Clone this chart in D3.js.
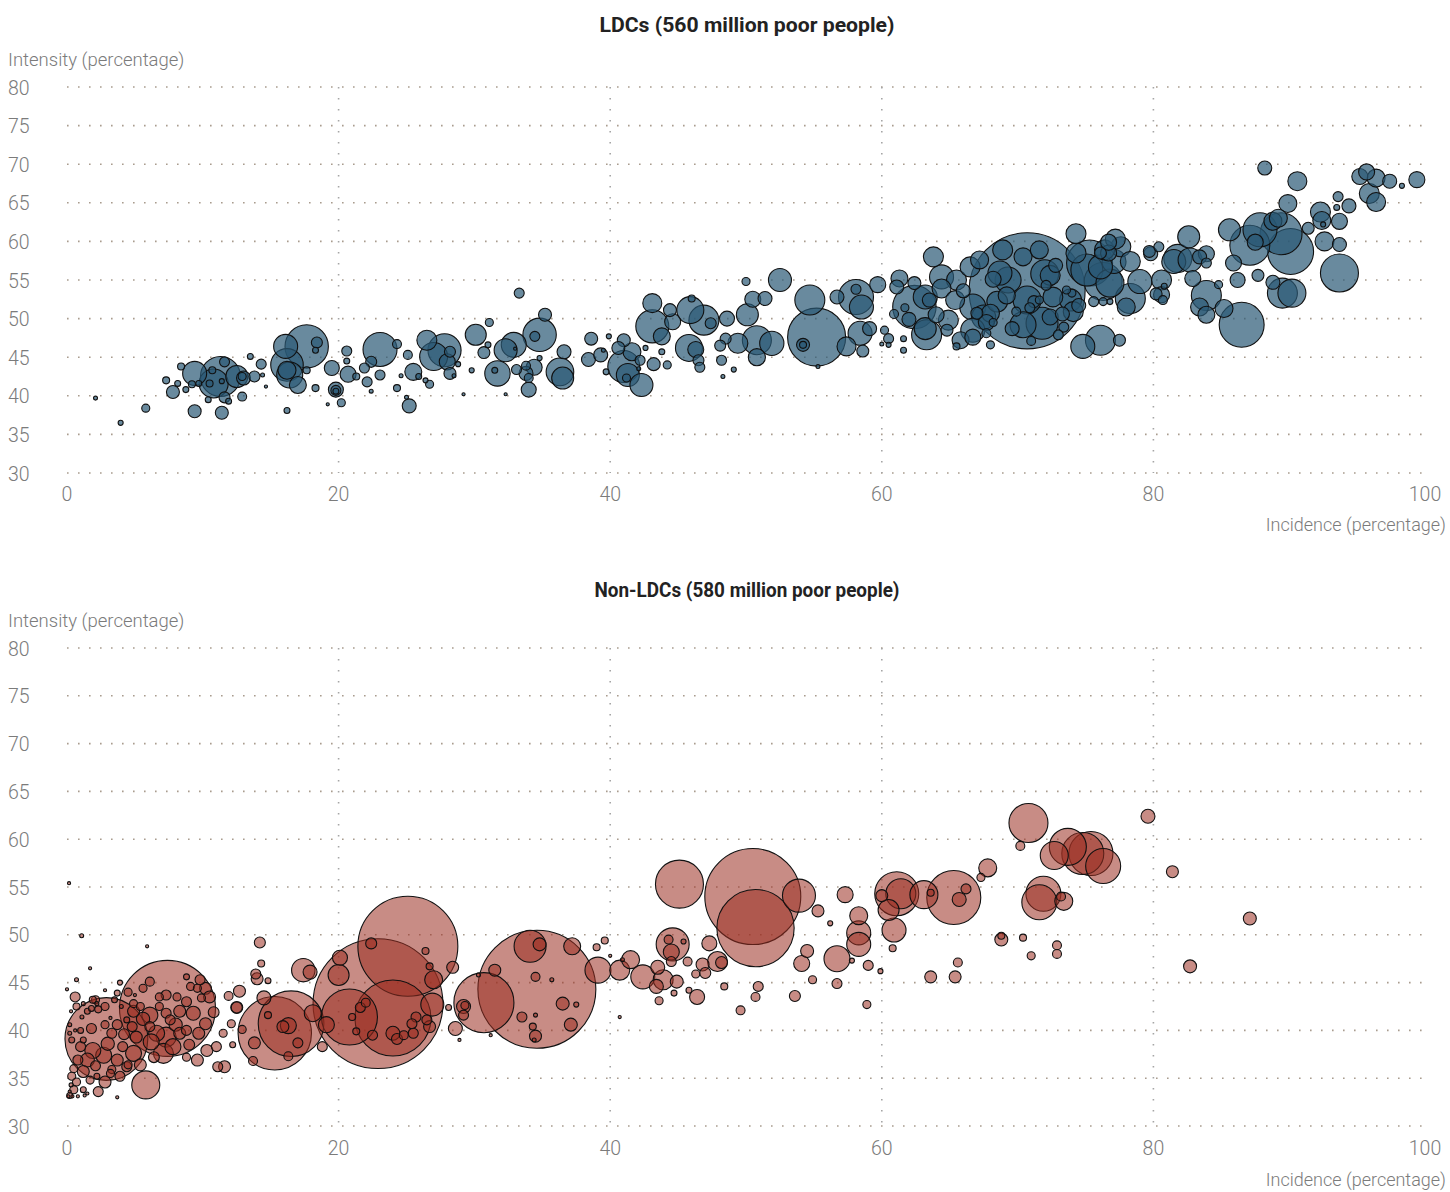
<!DOCTYPE html>
<html>
<head>
<meta charset="utf-8">
<script src="https://cdn.jsdelivr.net/npm/d3@7"></script>
<style>
  body { margin: 0; background: #fff; }
  svg text { font-family: Roboto, "Noto Sans", sans-serif; }
</style>
</head>
<body>
<svg id="chart" width="1450" height="1192"></svg>
<script>
// Axis ticks
const yTicks = [30, 35, 40, 45, 50, 55, 60, 65, 70, 75, 80];
const xTicks = [0, 20, 40, 60, 80, 100];
const xGridValues = [20, 40, 60, 80];
const panelTitles = ["LDCs (560 million poor people)", "Non-LDCs (580 million poor people)"];
const yAxisTitle = "Intensity (percentage)";
const xAxisTitle = "Incidence (percentage)";

// Subnational regions: [incidence %, intensity %, poor people (millions)]
const ldcRegions = [
  [2.1,39.7,0.08],[3.95,36.5,0.13],[5.8,38.4,0.33],[7.3,42.0,0.25],[7.8,40.5,0.86],[8.15,41.6,0.18],
  [8.4,43.8,0.25],[8.75,40.8,0.18],[9.4,42.9,2.94],[9.2,41.5,0.25],[9.7,41.6,0.18],[9.4,38.0,0.86],
  [10.4,39.5,0.18],[11.3,42.5,8.16],[10.8,41.6,4.3],[12.5,42.5,2.47],[12.9,42.5,0.33],[11.6,44.4,0.51],
  [10.7,43.3,0.25],[10.5,41.6,0.25],[11.4,41.9,0.13],[11.6,39.8,0.62],[11.4,37.8,0.86],[11.9,39.3,0.18],
  [12.9,39.9,0.41],[13.0,42.3,1.0],[13.5,45.1,0.18],[13.8,42.5,0.62],[14.3,44.1,0.51],[14.4,42.7,0.08],
  [14.65,41.2,0.05],[16.2,38.1,0.18],[16.1,46.4,2.94],[17.65,46.4,9.6],[16.2,44.0,5.4],[16.2,43.3,1.65],
  [16.4,42.7,3.45],[17.0,41.4,1.47],[18.4,46.9,0.62],[18.3,45.9,0.18],[18.3,41.0,0.25],[17.65,43.3,0.25],
  [19.5,43.6,1.15],[19.8,40.8,1.15],[19.8,40.7,0.51],[19.8,40.6,0.18],[20.2,39.1,0.33],[19.2,38.9,0.05],
  [20.6,45.8,0.51],[20.6,44.5,0.18],[20.7,42.8,1.31],[21.3,42.5,0.25],[21.9,43.6,0.51],[22.1,41.8,0.51],
  [22.4,44.4,0.62],[22.4,40.6,0.08],[23.05,46.0,5.9],[23.05,42.7,0.51],[24.3,46.7,0.41],[24.3,41.0,0.25],
  [25.1,45.3,0.41],[25.2,38.7,1.0],[25.0,39.8,0.08],[24.6,42.6,0.08],[25.5,43.1,1.47],[26.5,47.2,2.04],
  [27.8,45.9,5.6],[27.0,45.1,4.0],[28.0,44.4,1.31],[28.2,45.7,0.62],[28.2,42.9,0.73],[26.7,41.5,0.33],
  [26.4,42.0,0.13],[25.9,42.5,0.18],[28.5,42.6,0.08],[28.8,44.1,0.13],[29.8,43.3,0.13],[29.2,40.2,0.05],
  [30.1,47.9,2.25],[30.7,45.6,0.73],[31.1,49.5,0.33],[31.0,46.6,0.18],[31.7,42.9,3.3],[31.5,43.3,0.18],
  [32.3,45.9,2.7],[32.9,46.6,3.19],[33.0,46.1,0.05],[32.3,40.2,0.05],[33.3,53.3,0.51],[33.1,43.4,0.51],
  [33.8,42.9,1.0],[34.0,42.3,0.41],[34.4,43.7,1.31],[34.0,40.8,1.15],[33.8,43.9,0.41],[34.8,47.9,5.7],
  [34.45,47.7,0.51],[35.2,50.5,0.86],[34.8,44.9,0.13],[36.3,43.1,3.9],[36.5,42.3,2.47],[36.6,45.7,1.0],
  [38.6,47.4,0.86],[38.4,44.7,1.0],[39.3,45.3,1.0],[39.7,43.1,0.18],[39.9,47.7,0.13],[39.5,45.9,0.08],
  [41.0,43.8,5.22],[41.3,42.7,2.7],[41.2,42.3,0.33],[42.3,41.4,2.7],[41.6,45.7,1.65],[41.0,47.2,0.86],
  [40.6,46.2,0.86],[42.2,44.6,0.51],[42.1,43.5,0.08],[43.2,44.1,0.86],[44.2,44.0,0.33],[42.6,46.2,0.13],
  [43.1,49.0,5.56],[43.1,52.0,1.84],[43.8,47.7,1.47],[43.8,45.7,0.18],[44.4,51.1,0.86],[44.6,49.6,1.31],
  [45.9,51.1,3.72],[45.8,46.2,3.72],[46.3,46.0,1.31],[46.9,49.8,4.59],[47.4,49.4,0.62],[46.5,44.6,0.62],
  [46.6,43.7,0.51],[46.0,52.6,0.25],[48.6,50.0,1.15],[48.5,47.4,0.62],[48.1,46.5,0.62],[48.2,44.6,0.51],
  [48.3,42.5,0.08],[49.1,43.4,0.13],[50.0,54.8,0.33],[50.1,50.5,2.47],[50.5,52.5,1.31],[49.4,46.8,2.04],
  [50.8,47.2,4.3],[50.8,45.0,1.5],[51.9,46.8,3.0],
  [52.5,55.0,2.7],[51.4,52.6,1.0],[54.7,52.4,4.59],[55.2,47.6,17.2],[54.2,46.6,0.86],[54.2,46.6,0.25],
  [55.3,43.8,0.08],[56.7,52.8,1.0],[58.1,52.8,6.25],[58.5,51.5,2.94],[58.1,53.8,0.51],[57.4,46.4,1.84],
  [58.4,48.1,2.94],[59.1,48.7,1.0],[58.6,45.8,0.73],[59.7,54.4,1.31],[61.3,55.2,1.47],[61.1,54.1,1.0],
  [62.4,54.6,0.86],[62.4,51.5,9.6],[63.2,52.8,2.94],[63.5,52.4,1.0],[61.7,51.4,0.33],[60.9,50.6,0.41],
  [60.5,47.4,0.51],[60.2,48.5,0.33],[61.6,47.4,0.18],[60.5,46.6,0.13],[60.0,46.7,0.08],[61.6,45.9,0.18],
  [63.2,48.7,2.47],[63.3,47.9,4.59],[63.8,58.0,2.04],[64.4,55.4,2.94],[64.4,53.9,1.84],[65.5,55.0,2.04],
  [65.4,52.4,1.84],[64.9,49.8,2.04],[64.8,48.5,0.73],[66.5,56.7,2.04],[67.2,57.6,1.65],[66.7,51.5,3.45],
  [67.5,50.2,2.94],[66.7,48.5,2.94],[66.7,47.6,1.31],[65.8,47.2,1.47],[65.5,46.4,0.25],[67.7,48.1,0.41],
  [68.0,46.6,0.33],[68.7,55.9,2.94],[68.9,58.9,2.04],[68.2,55.1,1.31],
  [70.7,53.6,68.7],
  [70.4,58.0,1.65],[71.6,58.9,1.65],[69.3,55.0,3.45],[72.0,55.8,4.0],[72.4,55.6,2.04],[72.1,54.3,0.51],
  [70.7,52.4,4.0],[71.2,52.2,0.73],[70.9,51.4,0.51],[71.6,52.4,0.33],[70.4,49.2,3.45],[71.8,49.4,5.22],
  [69.9,50.9,0.41],[72.4,50.2,1.31],[73.9,52.4,2.47],[74.0,53.3,0.33],[74.1,50.9,2.04],[74.5,51.7,1.0],
  [73.4,48.9,0.51],[73.3,50.6,1.0],[73.6,53.7,0.33],[67.7,49.5,1.31],[67.0,50.7,0.73],[68.0,50.7,1.65],
  [68.2,49.5,0.33],[74.3,58.5,2.04],[74.3,61.0,2.04],[75.1,56.3,5.22],[75.3,57.2,10.8],[76.3,54.8,7.37],
  [77.1,57.4,2.94],[77.6,59.3,2.04],[76.7,58.5,1.31],[76.7,59.9,1.31],[76.1,58.5,0.73],[78.3,52.6,4.59],
  [78.0,51.5,1.65],[79.0,54.8,2.94],[77.5,47.2,0.73],[74.8,46.4,2.94],[76.1,47.2,4.59],[75.6,52.2,0.51],
  [76.3,52.2,0.33],[76.8,52.2,0.18],[78.3,57.4,2.04],[79.8,58.4,1.0],[80.2,53.2,0.73],
  [62.0,49.9,1.0],[64.0,50.5,1.3],[66.0,53.6,1.0],[69.2,53.0,1.5],[69.6,48.7,1.0],[72.8,56.9,1.0],
  [73.0,47.9,0.5],[71.0,47.1,0.4],[68.5,52.2,2.2],[72.6,52.8,2.0],
  [88.2,69.5,1.0],[90.6,67.8,1.84],[89.9,64.9,1.65],[92.3,63.8,2.04],[92.4,62.7,1.65],[93.6,65.8,0.51],
  [93.5,64.4,0.18],[94.4,64.6,1.0],[93.7,62.6,1.31],[92.5,62.2,0.13],[92.6,60.0,1.84],[93.7,59.6,1.0],
  [93.7,55.9,7.37],[95.2,68.4,1.31],[95.7,69.0,1.31],[96.4,68.2,1.65],[97.4,67.8,1.0],[98.3,67.2,0.13],
  [99.4,68.0,1.31],[95.9,66.2,2.04],[96.4,65.1,1.84],[89.4,61.0,9.0],[90.1,58.7,10.8],[87.85,61.5,5.9],
  [87.1,59.5,8.16],[87.5,59.9,1.31],[88.8,62.6,1.65],[89.2,63.0,1.65],[91.4,61.7,0.73],[85.6,61.5,2.47],
  [85.9,57.2,1.31],[86.2,55.0,1.15],[87.7,55.6,0.73],[88.8,54.7,1.0],[89.5,53.3,4.59],[90.2,53.3,4.0],
  [86.5,49.2,10.3],[83.9,53.0,4.59],[83.4,51.5,1.65],[83.9,50.5,1.47],[85.2,51.3,1.65],[84.8,54.4,0.33],
  [82.9,55.2,1.31],[82.6,60.6,2.47],[81.8,57.8,4.0],[81.5,57.4,2.94],[82.7,57.6,2.94],[83.4,58.0,1.0],
  [83.9,58.4,1.31],[83.9,57.2,0.51],[80.6,55.0,2.04],[80.6,53.1,1.31],[80.7,52.4,0.41],[80.8,54.2,0.18],
  [79.7,58.7,0.73],[80.4,59.3,0.51],[76.8,54.6,4.0],[76.1,56.7,2.94],[76.4,58.9,2.04],[77.2,60.3,2.04]
];

const nonLdcRegions = [
  [0.15,55.4,0.05],[1.08,49.9,0.08],[5.9,48.8,0.05],[1.7,46.5,0.05],[0.7,45.3,0.08],[0.0,44.3,0.05],
  [0.6,43.5,0.51],[0.7,42.5,0.25],[14.2,49.2,0.62],[14.3,47.0,0.25],[13.9,45.9,0.51],[14.0,45.4,0.73],
  [14.8,45.2,0.18],[3.9,45.0,0.13],[2.1,43.2,0.33],[2.8,44.2,0.05],[7.4,42.3,47],[2.9,39.1,35],
  [15.3,39.7,27.5],[16.5,40.7,22],[5.8,34.3,4.0],[11.6,36.2,0.73],[11.1,36.2,0.51],[12.2,38.5,0.18],
  [12.7,44.1,0.73],[12.5,42.4,0.73],
  [25.1,48.8,51],[22.9,42.8,86],[24.0,41.3,29.5],[20.8,41.4,16],[20.0,45.8,2.25],[20.1,47.6,1.15],
  [22.4,49.1,0.62],[26.9,42.7,2.7],[27.0,45.3,1.65],[28.4,46.6,0.73],[26.4,48.3,0.25],[26.7,46.7,0.25],
  [34.6,44.3,71],[30.7,42.9,18.4],[34.1,48.8,5.22],[34.8,49.0,0.86],[37.2,48.8,1.47],[39.1,46.3,3.45],
  [40.7,46.3,2.04],[41.5,47.4,1.65],[42.4,45.6,2.94],[39.0,48.7,0.25],[39.6,49.4,0.25],[40.0,47.8,0.05],
  [40.9,47.4,0.08],[36.5,42.8,0.86],[37.1,40.6,0.86],[37.5,42.7,0.13],[31.5,46.3,0.73],[30.3,45.8,0.08],
  [34.5,45.6,0.41],[35.7,45.3,0.08],[33.5,41.4,0.51],[34.5,41.6,0.08],[34.3,40.4,0.25],[34.5,39.4,0.73],
  [34.4,39.0,0.08],[40.7,41.4,0.05],[29.2,42.5,1.0],[29.2,41.6,0.51],[28.6,40.2,1.0],[28.1,42.4,0.18],
  [29.3,42.6,0.33],[28.9,39.0,0.05],[31.2,39.5,0.05],[26.7,40.4,0.73],[26.5,41.1,0.51],[25.7,41.4,0.51],
  [25.4,40.7,0.51],[24.8,39.5,0.41],[25.5,39.7,0.51],[24.3,39.1,0.62],[24.0,39.7,1.0],[22.5,39.5,0.51],
  [22.0,42.9,0.41],[21.6,42.4,0.51],[21.0,41.4,0.25],[21.3,39.9,0.25],[19.1,40.6,1.31],[18.8,38.3,0.51],
  [18.1,41.8,1.47],[17.4,46.3,2.8],[17.9,46.1,1.0],[16.3,40.5,1.31],[15.9,40.4,0.73],[17.0,38.7,0.51],
  [16.3,37.3,0.41],[14.5,43.4,1.0],[14.8,41.6,0.25],[13.8,38.7,0.73],[13.7,36.8,0.41],[12.9,40.1,0.33],
  [12.5,42.4,0.62],
  [45.1,55.3,11.76],[50.5,54.0,47],[50.7,50.7,30.5],[53.9,54.1,5.56],[55.3,52.5,0.73],[57.3,54.2,1.31],
  [58.3,52.0,1.65],[58.3,50.2,2.94],[58.3,49.0,2.94],[56.2,51.2,0.13],[60.9,50.5,2.94],[60.8,48.6,0.25],
  [61.1,54.3,9.88],[61.4,54.3,4.59],[60.5,52.6,2.25],[60.0,54.1,0.73],[63.1,54.2,4.0],[63.6,54.4,0.25],
  [65.3,53.9,14.9],[65.7,53.7,1.0],[66.2,54.8,0.51],[67.8,57.0,1.65],[67.3,56.0,0.33],[70.8,61.7,7.76],
  [68.8,49.5,0.86],[68.8,49.9,0.25],[65.6,47.1,0.41],[65.4,45.6,0.73],[63.6,45.6,0.73],[58.9,42.7,0.33],
  [59.9,46.2,0.13],[59.0,46.8,0.51],[56.7,47.5,3.45],[56.7,44.9,0.51],[57.8,47.3,0.13],[54.5,48.3,0.86],
  [54.1,47.0,1.31],[54.9,45.3,0.33],[53.6,43.6,0.62],[50.9,44.6,0.51],[50.7,43.5,0.41],[49.6,42.1,0.41],
  [48.4,44.6,0.25],[46.4,43.5,1.15],[45.8,44.2,0.18],[44.7,43.9,0.18],[43.6,43.1,0.33],[44.9,45.1,0.86],
  [43.9,45.3,2.04],[43.4,44.6,1.0],[43.5,46.6,1.0],[44.6,49.0,5.56],[44.3,49.5,0.41],[44.5,48.2,1.31],
  [44.5,47.2,0.51],[45.4,49.3,0.13],[47.3,49.1,1.15],[47.9,47.2,2.04],[48.2,47.1,0.73],[46.8,46.9,0.86],
  [47.0,46.0,0.62],[46.3,45.9,0.33],[45.7,47.2,0.41],
  [71.9,54.3,6.25],[71.6,53.4,6.25],[73.4,53.5,1.65],[73.2,54.0,0.41],[70.2,59.3,0.41],[72.7,58.3,4.0],
  [73.7,59.2,7.0],[74.8,58.5,9.0],[75.4,58.5,9.88],[76.3,57.2,6.25],[79.6,62.4,1.0],[81.4,56.6,0.73],
  [87.1,51.7,0.86],[82.7,46.7,0.86],[70.4,49.7,0.25],[71.0,47.8,0.33],[72.9,48.9,0.41],[72.9,48.0,0.41],
  [2.3,42.2,0.25],[1.8,40.2,0.51],[2.8,40.6,0.33],[3.7,40.6,0.51],[3.3,39.7,0.51],[4.4,41.1,0.18],
  [4.8,40.4,0.51],[5.1,39.3,0.73],[6.1,41.6,1.31],[4.9,42.0,0.73],[5.6,44.4,0.33],[6.1,45.1,0.41],
  [6.8,43.5,0.33],[7.3,43.7,0.51],[8.1,43.5,0.33],[6.8,42.5,0.33],[7.3,41.8,0.51],[8.3,42.0,0.73],
  [8.8,45.6,0.18],[9.1,44.6,0.33],[9.8,45.3,0.51],[9.6,44.4,0.33],[10.2,44.4,0.73],[10.5,43.5,0.73],
  [9.9,43.4,0.33],[8.8,43.0,0.51],[9.3,41.8,1.0],[9.7,39.7,0.73],[10.2,40.7,0.73],[8.8,40.0,0.51],
  [8.3,39.7,0.73],[7.6,41.1,0.51],[6.6,39.7,1.31],[6.1,40.4,0.51],[7.3,39.3,2.04],[7.8,38.3,1.31],
  [7.1,37.6,2.04],[6.2,38.8,1.31],[4.9,37.6,1.31],[4.1,38.3,0.51],[5.4,36.4,0.73],[4.4,36.2,0.51],
  [3.7,36.9,0.73],[3.3,35.9,0.33],[2.7,37.4,1.31],[1.9,37.9,1.31],[1.5,36.9,1.0],[1.2,35.7,0.73],
  [0.8,36.9,0.51],[1.0,38.3,0.51],[0.5,36.0,0.33],[0.35,35.2,0.33],[0.7,34.6,0.33],[0.5,33.8,0.33],
  [0.2,33.2,0.18],[1.2,33.8,0.18],[1.7,34.8,0.33],[2.2,35.2,0.18],[2.3,33.6,0.51],[2.8,34.6,0.73],
  [3.2,35.5,0.33],[3.9,35.2,0.51],[4.5,36.4,0.33],
  [0.1,33.1,0.05],[0.4,33.1,0.05],[0.8,33.1,0.05],[1.3,33.2,0.05],[0.2,33.6,0.05],[0.3,34.3,0.08],[1.5,33.4,0.05],
  [1.0,40.0,0.18],[1.2,39.0,0.18],[0.35,39.0,0.18],[0.2,39.7,0.08],[0.2,40.6,0.08],[1.1,41.4,0.08],
  [1.5,42.0,0.18],[1.8,42.3,0.18],[2.2,42.8,0.08],[2.8,42.5,0.33],[3.5,43.2,0.18],[4.0,42.5,0.08],
  [4.9,42.8,0.33],[5.4,42.5,0.33],[4.5,44.0,0.33],[3.7,43.9,0.18],[1.9,43.2,0.25],[1.2,42.8,0.08],
  [9.6,36.9,0.73],[10.3,37.9,0.73],[8.8,37.2,0.33],[11.0,38.3,0.51],[11.5,39.7,0.33],[12.1,40.7,0.33],
  [3.2,41.3,0.05],[5.0,43.7,0.05],[0.3,42.0,0.05],[0.6,40.0,0.05],[3.7,33.0,0.05],
  [5.6,41.2,0.9],[8.0,40.6,0.9],[3.0,38.6,0.9],[6.4,37.2,0.6],[9.0,38.5,0.6],[2.1,36.3,0.5],
  [10.8,41.9,0.6],[11.9,43.6,0.4],[4.2,39.6,0.6]
];

const svg = d3.select("#chart");
const x = d3.scaleLinear().domain([0, 100]).range([67, 1425]);
const radius = d3.scaleSqrt().domain([0, 100]).range([0, 70]);

const panels = [
  { title: panelTitles[0], data: ldcRegions, top: 87, bottom: 473,
    fill: "#2a5875", fillOpacity: 0.7, titleY: 32, titleLen: 295,
    yTitleY: 66, xTickY: 501, xTitleY: 531 },
  { title: panelTitles[1], data: nonLdcRegions, top: 648, bottom: 1126,
    fill: "#9b2d20", fillOpacity: 0.55, titleY: 597, titleLen: 305,
    yTitleY: 627, xTickY: 1155, xTitleY: 1186 }
];

const labelColor = "#7b7b7b";

panels.forEach(p => {
  const y = d3.scaleLinear().domain([30, 80]).range([p.bottom, p.top]);
  const g = svg.append("g");

  // Panel title
  g.append("text")
    .attr("x", 747).attr("y", p.titleY)
    .attr("text-anchor", "middle")
    .attr("font-size", 20).attr("font-weight", 700).attr("fill", "#222")
    .attr("textLength", p.titleLen).attr("lengthAdjust", "spacingAndGlyphs")
    .text(p.title);

  // Y axis title
  g.append("text")
    .attr("x", 8).attr("y", p.yTitleY)
    .attr("font-size", 18.5).attr("font-weight", 300).attr("fill", labelColor)
    .text(yAxisTitle);

  // Horizontal dotted gridlines
  g.append("g").selectAll("line").data(yTicks).join("line")
    .attr("x1", x(0)).attr("x2", x(100))
    .attr("y1", d => y(d)).attr("y2", d => y(d))
    .attr("stroke", "#a99c8e").attr("stroke-width", 1.6)
    .attr("stroke-dasharray", "1.6,9.4");

  // Vertical dotted gridlines
  g.append("g").selectAll("line").data(xGridValues).join("line")
    .attr("x1", d => x(d)).attr("x2", d => x(d))
    .attr("y1", p.top).attr("y2", p.bottom)
    .attr("stroke", "#a5a5a5").attr("stroke-width", 1.6)
    .attr("stroke-dasharray", "1.6,9.4");

  // Y tick labels
  g.append("g").selectAll("text").data(yTicks).join("text")
    .attr("x", 8).attr("y", d => y(d) + 7.5)
    .attr("font-size", 19.5).attr("font-weight", 300).attr("fill", labelColor)
    .text(d => d);

  // X tick labels
  g.append("g").selectAll("text").data(xTicks).join("text")
    .attr("x", d => x(d)).attr("y", p.xTickY)
    .attr("text-anchor", "middle")
    .attr("font-size", 19.5).attr("font-weight", 300).attr("fill", labelColor)
    .text(d => d);

  // X axis title
  g.append("text")
    .attr("x", 1446).attr("y", p.xTitleY)
    .attr("text-anchor", "end")
    .attr("font-size", 18).attr("font-weight", 300).attr("fill", labelColor)
    .text(xAxisTitle);

  // Bubbles, largest drawn first
  const sorted = p.data.slice().sort((a, b) => b[2] - a[2]);
  g.append("g").selectAll("circle").data(sorted).join("circle")
    .attr("cx", d => x(d[0]))
    .attr("cy", d => y(d[1]))
    .attr("r", d => Math.max(1.3, radius(d[2])))
    .attr("fill", p.fill).attr("fill-opacity", p.fillOpacity)
    .attr("stroke", "#111").attr("stroke-width", 1.1);
});
</script>
</body>
</html>
